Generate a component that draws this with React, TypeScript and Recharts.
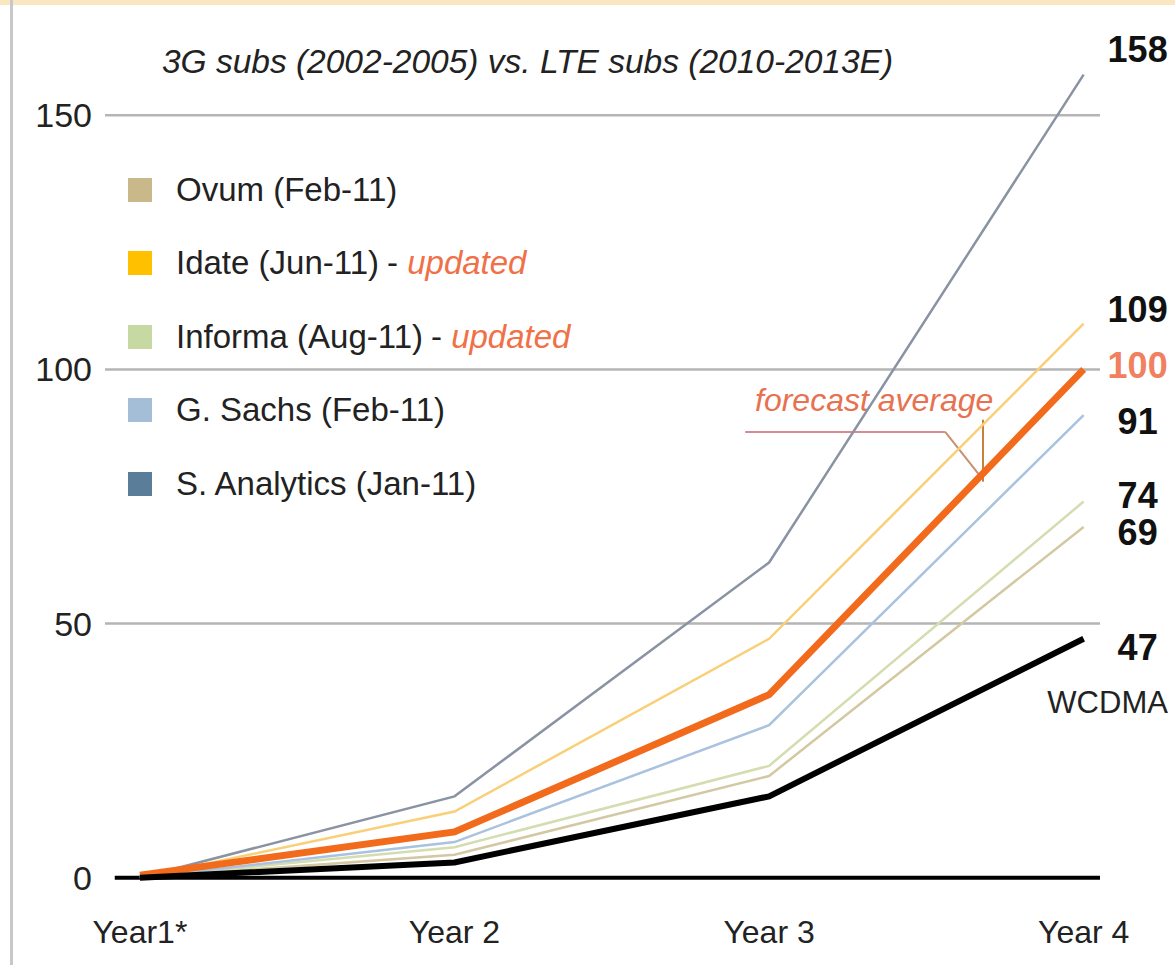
import React from "react";
import {
  LineChart,
  Line,
  XAxis,
  YAxis,
  ReferenceLine,
  LabelList,
  Legend,
} from "recharts";

const years = ["Year1*", "Year 2", "Year 3", "Year 4"];
const yTicks = [0, 50, 100, 150];

// subscribers (millions), year 1..4
const ovum = [0, 4.5, 20, 69];
const idate = [0, 13, 47, 109];
const informa = [0, 6, 22, 74];
const gSachs = [0, 7, 30, 91];
const sAnalytics = [0, 16, 62, 158];
const forecastAverage = [0.5, 9, 36, 100];
const wcdma = [0, 3, 16, 47];

const legendItems = [
  { name: "Ovum (Feb-11)", color: "#c9b98a", updated: false },
  { name: "Idate (Jun-11)", color: "#ffc000", updated: true },
  { name: "Informa (Aug-11)", color: "#c6d9a2", updated: true },
  { name: "G. Sachs (Feb-11)", color: "#a3bed6", updated: false },
  { name: "S. Analytics (Jan-11)", color: "#5a7d9a", updated: false },
];

const data = years.map((year, i) => ({
  x: i,
  year,
  ovum: ovum[i],
  idate: idate[i],
  informa: informa[i],
  gSachs: gSachs[i],
  sAnalytics: sAnalytics[i],
  forecastAverage: forecastAverage[i],
  wcdma: wcdma[i],
}));

const font = "'Liberation Sans', Arial, sans-serif";

const endLabel =
  (dy: number, color = "#111", extra?: string) =>
  (props: any) => {
    if (props.index !== years.length - 1) return null;
    const cx = props.x + 54;
    const cy = props.y + dy;
    return (
      <g>
        <text
          x={cx}
          y={cy}
          textAnchor="middle"
          dominantBaseline="central"
          fontFamily={font}
          fontWeight="bold"
          fontSize={36}
          fill={color}
        >
          {props.value}
        </text>
        {extra && (
          <text
            x={cx - 30}
            y={cy + 55}
            textAnchor="middle"
            dominantBaseline="central"
            fontFamily={font}
            fontSize={31}
            fill="#222"
          >
            {extra}
          </text>
        )}
      </g>
    );
  };

function LegendBox() {
  return (
    <div style={{ fontFamily: font, fontSize: 33, color: "#222" }}>
      {legendItems.map((item) => (
        <div
          key={item.name}
          style={{ display: "flex", alignItems: "center", height: 73.5 }}
        >
          <span
            style={{
              width: 24,
              height: 24,
              background: item.color,
              marginRight: 24,
              display: "inline-block",
            }}
          />
          <span>{item.name}</span>
          {item.updated && (
            <span style={{ marginLeft: 8 }}>
              -{" "}
              <span style={{ color: "#f07048", fontStyle: "italic" }}>
                updated
              </span>
            </span>
          )}
        </div>
      ))}
    </div>
  );
}

export default function App() {
  return (
    <div
      style={{
        position: "absolute",
        left: 0,
        top: 0,
        width: 1175,
        height: 965,
        background: "#fff",
        overflow: "hidden",
      }}
    >
      <div
        style={{
          position: "absolute",
          left: 0,
          top: 0,
          width: 1175,
          height: 5,
          background: "#fbe6c2",
        }}
      />
      <div
        style={{
          position: "absolute",
          left: 10,
          top: 0,
          width: 3,
          height: 965,
          background: "#c8c8c8",
        }}
      />
      <div
        style={{
          position: "absolute",
          left: 0,
          top: 44,
          width: 1055,
          textAlign: "center",
          fontFamily: font,
          fontStyle: "italic",
          fontSize: 33.5,
          lineHeight: "36px",
          color: "#222",
        }}
      >
        3G subs (2002-2005) vs. LTE subs (2010-2013E)
      </div>
      <div
        style={{
          position: "absolute",
          left: 755,
          top: 382,
          fontFamily: font,
          fontStyle: "italic",
          fontSize: 32,
          lineHeight: "36px",
          color: "#e8714f",
        }}
      >
        forecast average
      </div>
      <LineChart
        width={1175}
        height={965}
        data={data}
        margin={{ top: 39, right: 75, bottom: 0, left: 0 }}
        style={{ position: "absolute", left: 0, top: 0 }}
      >
        <XAxis
          type="number"
          dataKey="x"
          domain={[-0.111, 3.052]}
          allowDataOverflow
          ticks={[0, 1, 2, 3]}
          tickFormatter={(v: number) => years[v]}
          axisLine={false}
          tickLine={false}
          height={67}
          tickMargin={16}
          tick={{ fontSize: 32, fill: "#222", fontFamily: font }}
        />
        <YAxis
          type="number"
          domain={[-4, 165]}
          allowDataOverflow
          ticks={yTicks}
          axisLine={false}
          tickLine={false}
          width={105}
          tickMargin={7}
          tick={{ fontSize: 34, fill: "#222", fontFamily: font }}
        />
        {[50, 100, 150].map((v) => (
          <ReferenceLine key={v} y={v} stroke="#b5b5b5" strokeWidth={2.5} />
        ))}
        <ReferenceLine
          segment={[
            { x: -0.08, y: 0 },
            { x: 3.052, y: 0 },
          ]}
          stroke="#000"
          strokeWidth={4}
        />
        <ReferenceLine
          segment={[
            { x: 1.924, y: 87.7 },
            { x: 2.56, y: 87.7 },
          ]}
          stroke="#d98a92"
          strokeWidth={2}
        />
        <ReferenceLine
          segment={[
            { x: 2.56, y: 87.7 },
            { x: 2.68, y: 78.3 },
          ]}
          stroke="#c89070"
          strokeWidth={2}
        />
        <ReferenceLine
          segment={[
            { x: 2.68, y: 90.1 },
            { x: 2.68, y: 77.9 },
          ]}
          stroke="#c8803a"
          strokeWidth={2}
        />
        <Legend
          layout="horizontal"
          align="center"
          verticalAlign="middle"
          content={() => <LegendBox />}
          wrapperStyle={{ left: 128, top: 153, width: "auto" }}
        />
        <Line
          type="linear"
          dataKey="ovum"
          stroke="#d4c8a2"
          strokeWidth={2.5}
          dot={false}
          isAnimationActive={false}
        >
          <LabelList dataKey="ovum" content={endLabel(6)} />
        </Line>
        <Line
          type="linear"
          dataKey="informa"
          stroke="#d3ddb0"
          strokeWidth={2.5}
          dot={false}
          isAnimationActive={false}
        >
          <LabelList dataKey="informa" content={endLabel(-6)} />
        </Line>
        <Line
          type="linear"
          dataKey="gSachs"
          stroke="#a9c2e0"
          strokeWidth={2.5}
          dot={false}
          isAnimationActive={false}
        >
          <LabelList dataKey="gSachs" content={endLabel(6)} />
        </Line>
        <Line
          type="linear"
          dataKey="idate"
          stroke="#f9cf78"
          strokeWidth={2.5}
          dot={false}
          isAnimationActive={false}
        >
          <LabelList dataKey="idate" content={endLabel(-14)} />
        </Line>
        <Line
          type="linear"
          dataKey="sAnalytics"
          stroke="#8a93a3"
          strokeWidth={2.5}
          dot={false}
          isAnimationActive={false}
        >
          <LabelList dataKey="sAnalytics" content={endLabel(-25)} />
        </Line>
        <Line
          type="linear"
          dataKey="forecastAverage"
          stroke="#f26a1b"
          strokeWidth={7}
          dot={false}
          isAnimationActive={false}
        >
          <LabelList
            dataKey="forecastAverage"
            content={endLabel(-4, "#f08060")}
          />
        </Line>
        <Line
          type="linear"
          dataKey="wcdma"
          stroke="#000"
          strokeWidth={6}
          dot={false}
          isAnimationActive={false}
        >
          <LabelList dataKey="wcdma" content={endLabel(9, "#111", "WCDMA")} />
        </Line>
      </LineChart>
    </div>
  );
}
